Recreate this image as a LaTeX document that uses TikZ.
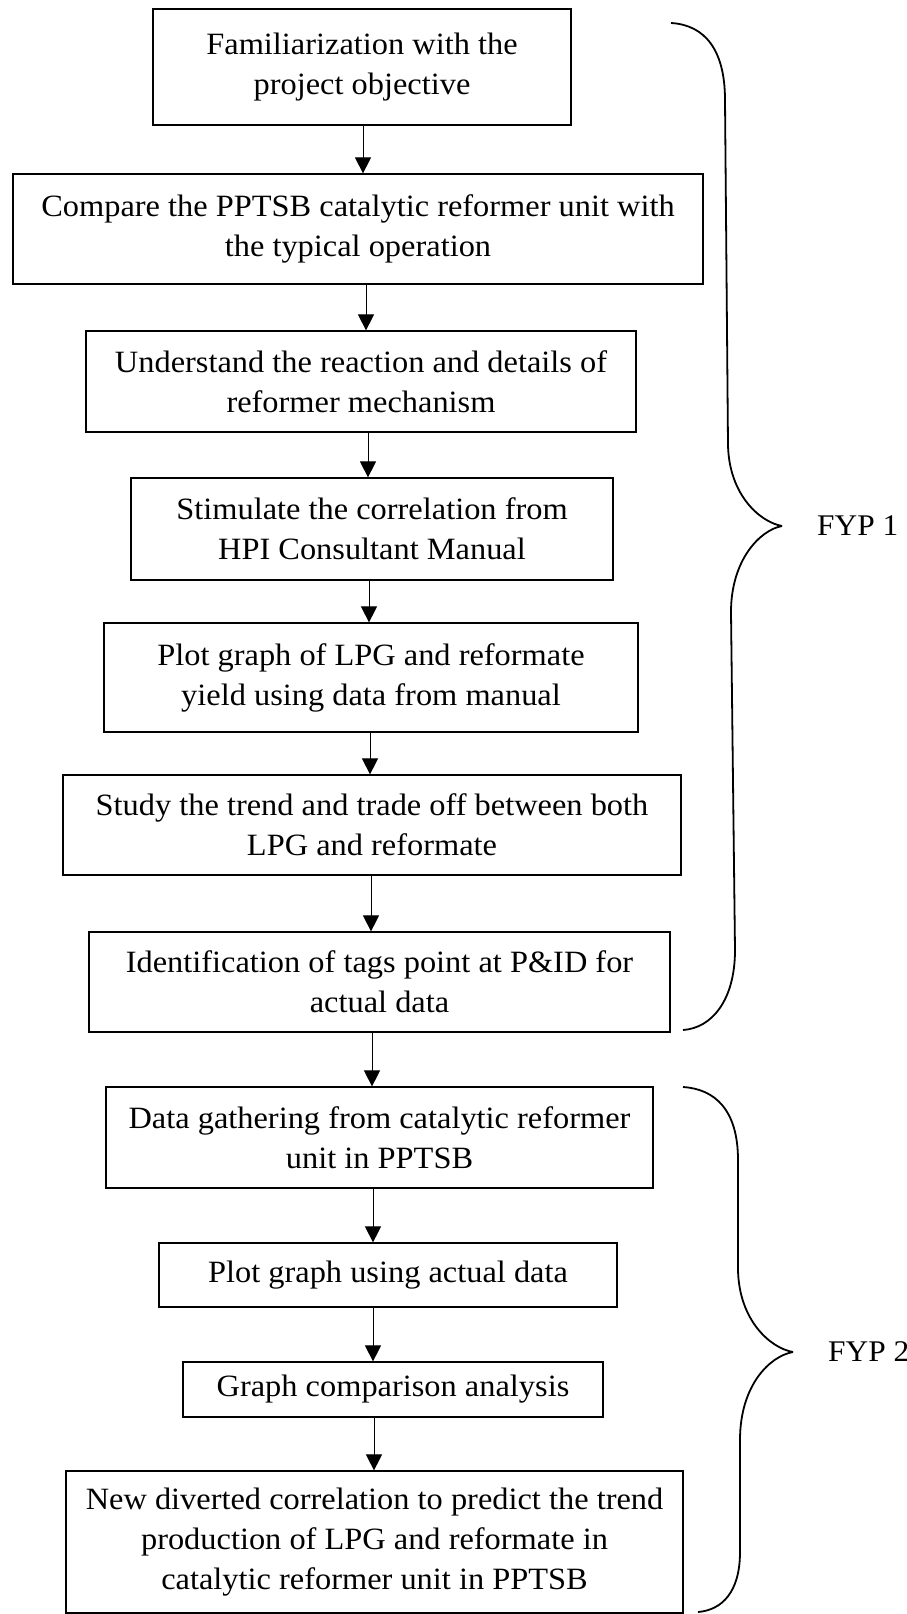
\documentclass[tikz,border=0pt]{standalone}
\usepackage{fontspec}
\setmainfont{Liberation Serif}[FakeStretch=1.045]
\usetikzlibrary{arrows.meta}
\tikzset{
  stepbox/.style={draw, line width=1.2pt, align=center, inner sep=0pt, font=\fontsize{31}{40}\selectfont},
  flowarrow/.style={line width=0.9pt, -{Triangle[width=16pt,length=16pt]}},
  bracepath/.style={line width=1.8pt},
  fyplabel/.style={anchor=west, inner sep=0pt, font=\fontsize{30}{36}\selectfont}
}
\newcommand{\boxat}[6]{% name, x1,y1,x2,y2, text
  \node[stepbox, minimum width={#4-#2}, minimum height={#5-#3}] (#1) at ({(#2+#4)/2},{(#3+#5)/2}) {#6};}
\begin{document}
\begin{tikzpicture}[x=1pt,y=-1pt]
\useasboundingbox (0,0) rectangle (907,1614);
\boxat{b1}{153}{9}{571}{125}{Familiarization with the\\project objective}
\boxat{b2}{13}{174}{703}{284}{Compare the PPTSB catalytic reformer unit with\\the typical operation}
\boxat{b3}{86}{331}{636}{432}{Understand the reaction and details of\\reformer mechanism}
\boxat{b4}{131}{478}{613}{580}{Stimulate the correlation from\\HPI Consultant Manual}
\boxat{b5}{104}{623}{638}{732}{Plot graph of LPG and reformate\\yield using data from manual}
\boxat{b6}{63}{775}{681}{875}{Study the trend and trade off between both\\LPG and reformate}
\boxat{b7}{89}{932}{670}{1032}{Identification of tags point at P\&ID for\\actual data}
\boxat{b8}{106}{1087}{653}{1188}{Data gathering from catalytic reformer\\unit in PPTSB}
\boxat{b9}{159}{1243}{617}{1307}{Plot graph using actual data}
\boxat{b10}{183}{1362}{603}{1417}{Graph comparison analysis}
\boxat{b11}{66}{1471}{683}{1613}{New diverted correlation to predict the trend\\production of LPG and reformate in\\catalytic reformer unit in PPTSB}
\foreach \a/\b/\x in {b1/b2/363,b2/b3/366,b3/b4/368,b4/b5/369,b5/b6/370,b6/b7/371,b7/b8/372,b8/b9/373,b9/b10/373,b10/b11/374}{
  \coordinate (ax) at (\x,0);
  \draw[flowarrow] (\a.south -| ax) -- (\b.north -| ax);
}
% braces
\draw[bracepath] (671,23) .. controls (705,25) and (725,50) .. (725,100) -- (728,445)
  .. controls (729,495) and (760,522) .. (782,526);
\draw[bracepath] (782,526) .. controls (760,530) and (731,560) .. (731,612) -- (735,950)
  .. controls (735,1000) and (712,1028) .. (683,1030);
\draw[bracepath] (683,1087) .. controls (715,1089) and (738,1110) .. (738,1160) -- (738,1270)
  .. controls (739,1320) and (770,1348) .. (793,1352);
\draw[bracepath] (793,1352) .. controls (770,1356) and (740,1385) .. (740,1440) -- (740,1552)
  .. controls (740,1592) and (722,1610) .. (698,1612);
\node[fyplabel] (fyp1) at (817,526) {FYP 1};
\node[fyplabel] (fyp2) at (828,1352) {FYP 2};
\end{tikzpicture}
\end{document}
